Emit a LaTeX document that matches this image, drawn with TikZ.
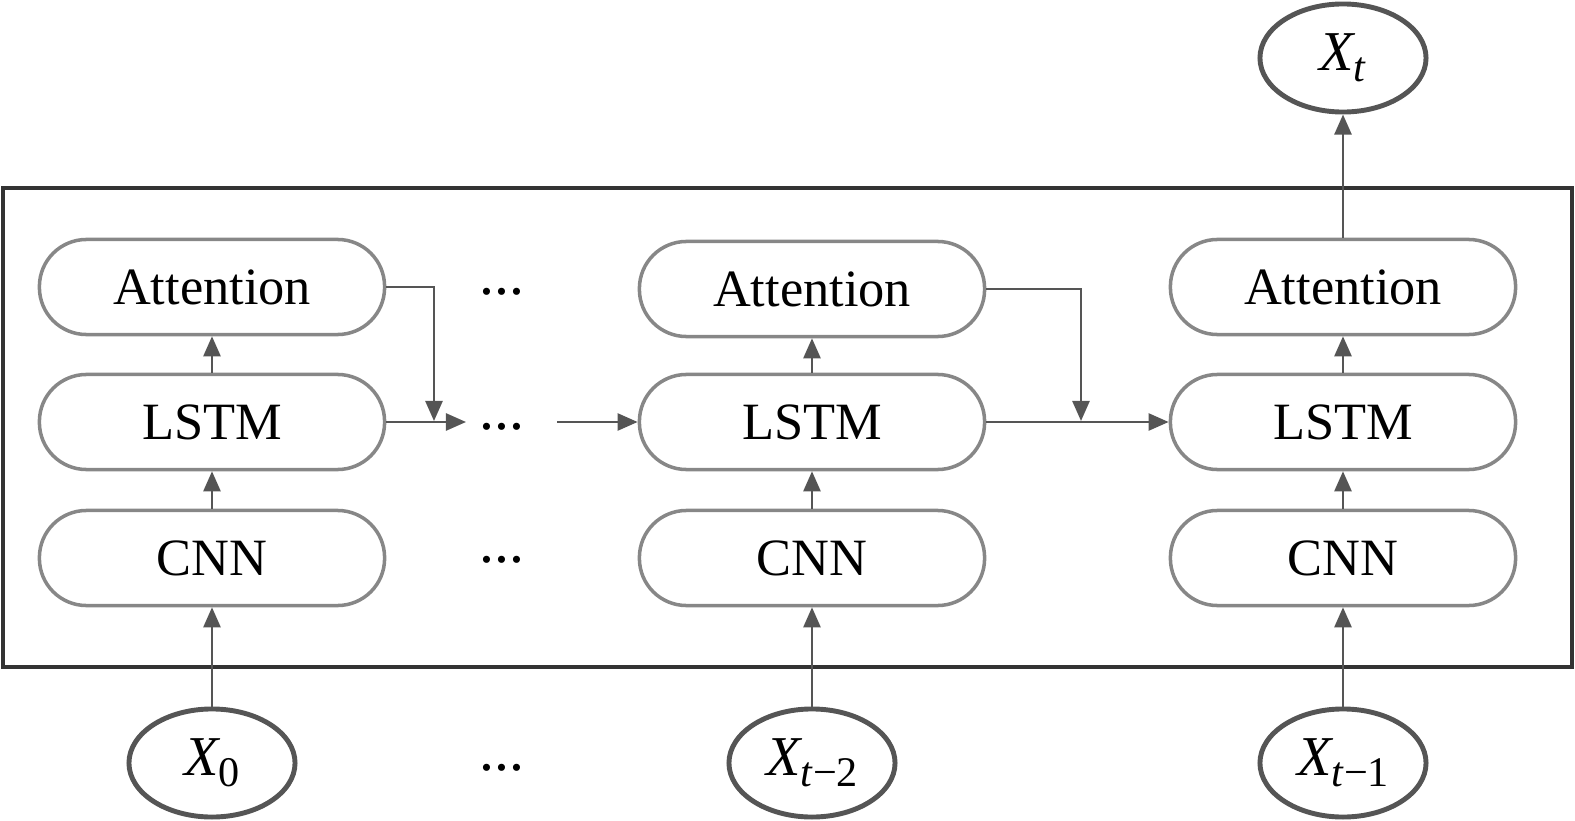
\documentclass[tikz,border=0pt]{standalone}
\usepackage{fontspec}
\setmainfont{Liberation Serif}
\usetikzlibrary{arrows.meta,shapes.geometric}
\definecolor{boxgray}{HTML}{878787}
\definecolor{arrowgray}{HTML}{555555}
\definecolor{framegray}{HTML}{333333}
\newcommand{\xvar}[1]{\textit{X}\kern-0.5pt\raisebox{-0.11cm}{\fontsize{12}{12}\selectfont #1}}
\tikzset{
  block/.style={draw=boxgray,line width=1pt,rounded corners=0.47cm,
    minimum width=3.45cm,minimum height=0.95cm,inner sep=0pt,
    font=\fontsize{14.9}{18}\selectfont},
  var/.style={ellipse,draw=arrowgray,line width=1.4pt,minimum width=1.66cm,
    minimum height=1.08cm,inner sep=0pt,font=\fontsize{16}{18}\selectfont},
  flow/.style={draw=arrowgray,line width=0.7pt,-{Triangle[length=2mm,width=1.7mm]}},
  gap/.style={font=\fontsize{17}{18}\selectfont,inner sep=0pt}
}
\begin{document}
\begin{tikzpicture}[x=0.01cm,y=-0.01cm]
  \useasboundingbox (0,0) rectangle (1575,821);
  \draw[framegray,line width=0.9pt] (3,188) rectangle (1572,667);

  \node[block] (att1) at (212,287) {Attention};
  \node[block] (lstm1) at (212,422) {LSTM};
  \node[block] (cnn1) at (212,558) {CNN};
  \node[block] (att2) at (812,289) {Attention};
  \node[block] (lstm2) at (812,422) {LSTM};
  \node[block] (cnn2) at (812,558) {CNN};
  \node[block] (att3) at (1343,287) {Attention};
  \node[block] (lstm3) at (1343,422) {LSTM};
  \node[block] (cnn3) at (1343,558) {CNN};

  \node[var] (x0) at (212,763) {\xvar{0}};
  \node[var] (xt2) at (812,763) {\xvar{\textit{t}−2}};
  \node[var] (xt1) at (1343,763) {\xvar{\textit{t}−1}};
  \node[var] (xt) at (1343,58) {\xvar{\textit{t}}};

  \node[gap] (dotsA) at (502,292) {...};
  \node[gap] (dotsL) at (502,427) {...};
  \node[gap] (dotsC) at (502,560) {...};
  \node[gap] (dotsX) at (502,768) {...};

  \coordinate (h1) at (466,422);
  \coordinate (h2) at (557,422);
  \coordinate (m1) at (434,421);
  \coordinate (m2) at (1081,421);

  \draw[flow] (x0) -- (cnn1);
  \draw[flow] (cnn1) -- (lstm1);
  \draw[flow] (lstm1) -- (att1);
  \draw[flow] (xt2) -- (cnn2);
  \draw[flow] (cnn2) -- (lstm2);
  \draw[flow] (lstm2) -- (att2);
  \draw[flow] (xt1) -- (cnn3);
  \draw[flow] (cnn3) -- (lstm3);
  \draw[flow] (lstm3) -- (att3);
  \draw[flow] (att3) -- (xt);

  \draw[flow] (lstm1) -- (h1);
  \draw[flow] (h2) -- (lstm2);
  \draw[flow] (lstm2) -- (lstm3);
  \draw[flow] (att1.east) -| (m1);
  \draw[flow] (att2.east) -| (m2);
\end{tikzpicture}
\end{document}
